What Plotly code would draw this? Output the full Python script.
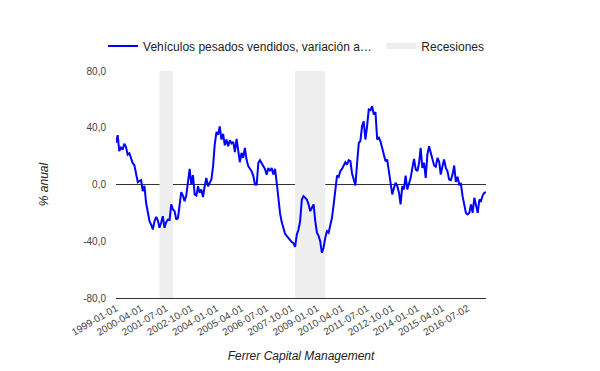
import pandas as pd
import plotly.graph_objects as go

start_month = "1999-01-01"
values = [
    29.4, 34.8, 23.5, 26.0, 24.5, 28.7, 26.5, 21.0, 22.0, 18.5, 15.0, 13.6,      # 1999
    5.9, 1.6, 2.5, 3.0, -4.7, -1.0, -12.9, -18.8, -25.8, -28.2, -31.7, -25.8,    # 2000
    -22.8, -25.4, -30.5, -27.0, -22.3, -30.5, -26.5, -24.7, -25.0, -14.0, -17.6, -18.8,  # 2001
    -24.7, -23.6, -14.0, -5.4, -7.8, -11.7, -7.8, 1.2, 11.0, 0.0, 6.5, -7.0,     # 2002
    -7.8, -1.2, -5.9, -3.5, -8.9, -1.2, 4.7, -1.2, 1.2, 3.5, 12.9, 28.2,         # 2003
    37.0, 35.0, 41.0, 31.7, 35.7, 27.6, 31.7, 27.0, 31.2, 29.0, 30.0, 22.8,      # 2004
    32.2, 21.1, 15.7, 22.3, 18.8, 25.8, 17.6, 12.9, 11.0, 9.4, 5.9, 0.0,         # 2005
    0.0, 15.3, 17.1, 15.0, 13.4, 11.0, 6.8, 11.7, 9.4, 11.7, 7.0, 11.0,          # 2006
    1.2, -12.3, -20.0, -26.5, -31.7, -34.7, -36.2, -37.8, -38.8, -40.6, -41.4, -43.9,  # 2007
    -35.2, -31.7, -25.8, -10.6, -8.2, -9.5, -10.6, -14.0, -18.8, -16.4, -14.0, -25.8,  # 2008
    -34.0, -36.4, -39.9, -48.1, -44.6, -37.6, -32.9, -34.0, -29.4, -23.5, -14.0, -1.2,  # 2009
    6.3, 5.4, 9.4, 11.0, 13.4, 15.7, 14.0, 17.1, 16.4, 7.8, 3.5, -0.7,           # 2010
    15.3, 29.4, 30.6, 41.0, 44.6, 31.7, 41.0, 52.9, 52.4, 55.2, 49.3, 51.0,      # 2011
    31.7, 32.9, 30.5, 25.8, 21.1, 16.4, 17.6, 9.4, 2.3, -7.0, -2.3, 1.2,         # 2012
    -1.2, -5.9, -14.0, -1.2, -3.5, 6.3, -3.5, 0.0, 4.7, 11.7, 18.1, 10.6,        # 2013
    9.5, 15.3, 25.8, 11.7, 15.3, 4.7, 21.1, 27.0, 22.3, 16.4, 13.4, 12.5,        # 2014
    18.8, 16.0, 7.0, 12.9, 17.6, 11.7, 9.4, 3.5, 3.0, 7.0, 13.4, 1.8,            # 2015
    5.4, 0.0, 0.5, -8.2, -15.3, -20.0, -21.1, -20.0, -14.0, -20.0, -9.4, -14.0,  # 2016
    -20.0, -10.6, -11.7, -7.8, -5.9, -5.5,                                       # 2017
]
dates = pd.date_range(start_month, periods=len(values), freq="MS")

recession_starts = ["2001-03-01", "2007-12-01"]
recession_ends = ["2001-11-01", "2009-06-01"]

x_tick_labels = ["1999-01-01", "2000-04-01", "2001-07-01", "2002-10-01", "2004-01-01",
                 "2005-04-01", "2006-07-01", "2007-10-01", "2009-01-01", "2010-04-01",
                 "2011-07-01", "2012-10-01", "2014-01-01", "2015-04-01", "2016-07-02"]
y_tick_values = [-80, -40, 0, 40, 80]
y_tick_labels = ["-80,0", "-40,0", "0,0", "40,0", "80,0"]

series_name = "Vehículos pesados vendidos, variación a…"
recession_name = "Recesiones"
y_title = "% anual"
x_title = "Ferrer Capital Management"

y_lo, y_hi = y_tick_values[0], y_tick_values[-1]

fig = go.Figure()

# recession bands as a filled trace (so they appear in the legend)
rx, ry = [], []
for s, e in zip(recession_starts, recession_ends):
    rx += [s, s, e, e, s, None]
    ry += [y_lo, y_hi, y_hi, y_lo, y_lo, None]

fig.add_trace(go.Scatter(
    x=rx, y=ry, mode="none", fill="toself", fillcolor="#eeeeee",
    name=recession_name, hoverinfo="skip", legend="legend2",
))
fig.add_trace(go.Scatter(
    x=dates, y=values, mode="lines", name=series_name,
    line=dict(color="#0000ff", width=2), legend="legend",
))

font_family = "Liberation Sans, Arial, sans-serif"
legend_common = dict(
    orientation="h", xanchor="left", y=1.11, yanchor="middle",
    font=dict(size=12, color="#222222"), itemwidth=30,
    bgcolor="rgba(0,0,0,0)",
)

# the page body adds an 8px offset, so the figure is 8px smaller on each side
fig.update_layout(
    width=592, height=363,
    margin=dict(l=108, r=114, t=63, b=73, autoexpand=False),
    paper_bgcolor="white", plot_bgcolor="white",
    font=dict(family=font_family, size=10, color="#444444"),
    showlegend=True,
    legend=dict(x=-0.035, **legend_common),
    legend2=dict(x=0.717, **legend_common),
    xaxis=dict(
        type="date",
        range=[dates[0], dates[-1]],
        tickvals=x_tick_labels, ticktext=x_tick_labels,
        tickangle=-30, tickfont=dict(size=10, color="#444444"),
        showgrid=False, zeroline=False, automargin=False,
        showline=True, linecolor="#333333", linewidth=1,
        ticks="",
        title=dict(text=x_title, font=dict(size=12, color="#222222", style="italic"), standoff=14),
    ),
    yaxis=dict(
        range=[y_lo, y_hi],
        tickvals=y_tick_values, ticktext=y_tick_labels,
        tickfont=dict(size=10, color="#444444"),
        ticklabelstandoff=9,
        showgrid=False, zeroline=True, zerolinecolor="#333333", zerolinewidth=1,
        showline=False, ticks="", automargin=False,
        title=dict(text=y_title, font=dict(size=12, color="#222222", style="italic"), standoff=32),
    ),
)

fig.write_html("out.html")
